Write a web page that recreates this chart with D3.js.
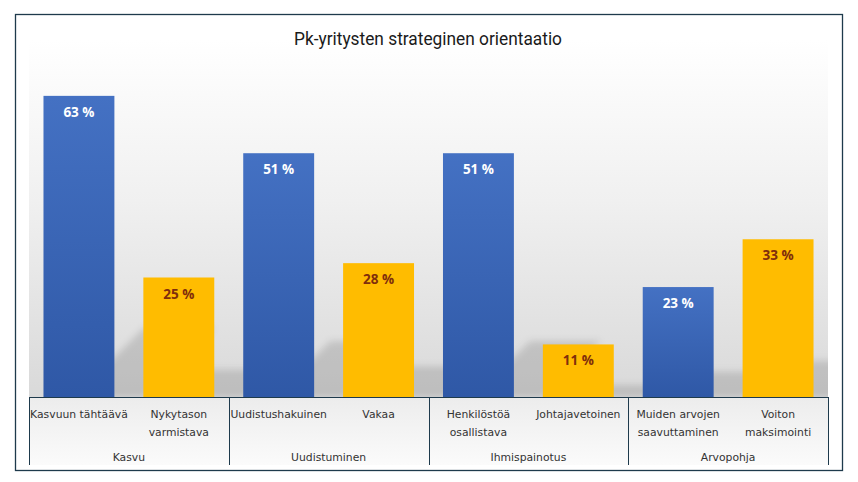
<!DOCTYPE html>
<html>
<head>
<meta charset="utf-8">
<script src="https://cdn.jsdelivr.net/npm/d3@7"></script>
<style>
  html, body { margin: 0; padding: 0; background: #ffffff; }
  svg { display: block; }
</style>
</head>
<body>
<svg id="chart" width="858" height="482"></svg>
<script>
// ---- data ----
const title = "Pk-yritysten strateginen orientaatio";
const categories = ["Kasvuun tähtäävä", "Nykytason varmistava", "Uudistushakuinen", "Vakaa",
                    "Henkilöstöä osallistava", "Johtajavetoinen", "Muiden arvojen saavuttaminen", "Voiton maksimointi"];
const categoryLines = [["Kasvuun tähtäävä"], ["Nykytason", "varmistava"], ["Uudistushakuinen"], ["Vakaa"],
                       ["Henkilöstöä", "osallistava"], ["Johtajavetoinen"], ["Muiden arvojen", "saavuttaminen"], ["Voiton", "maksimointi"]];
const groups = ["Kasvu", "Uudistuminen", "Ihmispainotus", "Arvopohja"];
const values = [63, 25, 51, 28, 51, 11, 23, 33];
const seriesOf = ["a", "b", "a", "b", "a", "b", "a", "b"];   // a = blue, b = yellow

// ---- layout ----
const svg = d3.select("#chart");
const left = 29, right = 828, base = 397, axisBottom = 465;

const x = d3.scaleBand().domain(categories).range([left, right]).paddingInner(0.29).paddingOuter(0.145);
const y = d3.scaleLinear().domain([0, 70]).range([base, base - 70 * 4.78]);
const gx = d3.scaleBand().domain(groups).range([left, right]);

const defs = svg.append("defs");
const bgGrad = defs.append("linearGradient").attr("id", "bgGrad").attr("x1", 0).attr("y1", 0).attr("x2", 0).attr("y2", 1);
bgGrad.append("stop").attr("offset", "0%").attr("stop-color", "#ffffff");
bgGrad.append("stop").attr("offset", "45%").attr("stop-color", "#f0f0f0");
bgGrad.append("stop").attr("offset", "100%").attr("stop-color", "#d9d9d9");
const axGrad = defs.append("linearGradient").attr("id", "axGrad").attr("x1", 0).attr("y1", 0).attr("x2", 0).attr("y2", 1);
axGrad.append("stop").attr("offset", "0%").attr("stop-color", "#ececec");
axGrad.append("stop").attr("offset", "100%").attr("stop-color", "#fbfbfb");
const blueGrad = defs.append("linearGradient").attr("id", "blueGrad").attr("x1", 0).attr("y1", 0).attr("x2", 0).attr("y2", 1);
blueGrad.append("stop").attr("offset", "0%").attr("stop-color", "#4471c3");
blueGrad.append("stop").attr("offset", "100%").attr("stop-color", "#2f58a6");
const blur = defs.append("filter").attr("id", "blur")
  .attr("filterUnits", "userSpaceOnUse").attr("x", 0).attr("y", 0).attr("width", 858).attr("height", 482);
blur.append("feGaussianBlur").attr("stdDeviation", 3.5);
defs.append("clipPath").attr("id", "plotClip").append("rect")
  .attr("x", left).attr("y", 0).attr("width", right - left).attr("height", base);

// frame
svg.append("rect").attr("x", 15.5).attr("y", 14.5).attr("width", 827).attr("height", 456)
  .attr("fill", "#ffffff").attr("stroke", "#1e3a4c").attr("stroke-width", 1.3);

// plot background
svg.append("rect").attr("x", left).attr("y", 40).attr("width", right - left).attr("height", base - 40)
  .attr("fill", "url(#bgGrad)");
svg.append("rect").attr("x", left).attr("y", base).attr("width", right - left).attr("height", axisBottom - base)
  .attr("fill", "url(#axGrad)");

// title
svg.append("text").attr("x", 428).attr("y", 45).attr("text-anchor", "middle")
  .attr("font-family", "Roboto, 'Open Sans', sans-serif").attr("font-size", 19).attr("font-weight", 400)
  .attr("fill", "#1a1a1a").attr("textLength", 268).attr("lengthAdjust", "spacingAndGlyphs")
  .text(title);

// shadows
const shadowG = svg.append("g").attr("clip-path", "url(#plotClip)");
shadowG.append("g").attr("filter", "url(#blur)").selectAll("path").data(categories).join("path")
  .attr("d", (c, i) => {
    const x0 = x(c) + 31, x1 = x(c) + x.bandwidth() + 31;
    const H = 0.23 * (base - y(values[i]));
    return `M${x0},${base}L${x1},${base}L${x1 + H},${base - H}L${x0 + H},${base - H}Z`;
  })
  .attr("fill", "#000").attr("opacity", 0.13);

// bars
svg.append("g").selectAll("rect").data(categories).join("rect")
  .attr("x", c => x(c)).attr("width", x.bandwidth())
  .attr("y", (c, i) => y(values[i])).attr("height", (c, i) => base - y(values[i]))
  .attr("fill", (c, i) => seriesOf[i] === "a" ? "url(#blueGrad)" : "#ffbc00");

// value labels
svg.append("g").selectAll("text").data(categories).join("text")
  .attr("x", c => x(c) + x.bandwidth() / 2).attr("y", (c, i) => y(values[i]) + 21)
  .attr("text-anchor", "middle")
  .attr("font-family", "'Open Sans', 'DejaVu Sans', sans-serif").attr("font-size", 13.5).attr("font-weight", 700)
  .attr("fill", (c, i) => seriesOf[i] === "a" ? "#ffffff" : "#7f2e0c")
  .text((c, i) => values[i] + " %");

// axis lines
const axisColor = "#1e3a4c";
svg.append("line").attr("x1", left).attr("x2", right).attr("y1", base + 0.5).attr("y2", base + 0.5)
  .attr("stroke", axisColor).attr("stroke-width", 1);
const divs = groups.map(g => gx(g)).concat([right]);
svg.append("g").selectAll("line").data(divs).join("line")
  .attr("x1", d => Math.round(d) + 0.5).attr("x2", d => Math.round(d) + 0.5)
  .attr("y1", base).attr("y2", axisBottom)
  .attr("stroke", axisColor).attr("stroke-width", 1);

// category labels
const catG = svg.append("g").attr("font-family", "'DejaVu Sans', Verdana, sans-serif")
  .attr("font-size", 10.8).attr("fill", "#333333");
categories.forEach((c, i) => {
  categoryLines[i].forEach((ln, j) => {
    catG.append("text").attr("x", x(c) + x.bandwidth() / 2).attr("y", 418 + j * 18)
      .attr("text-anchor", "middle").text(ln);
  });
});

// group labels
svg.append("g").selectAll("text").data(groups).join("text")
  .attr("x", g => gx(g) + gx.bandwidth() / 2).attr("y", 461)
  .attr("text-anchor", "middle")
  .attr("font-family", "'DejaVu Sans', Verdana, sans-serif").attr("font-size", 10.8).attr("fill", "#333333")
  .text(g => g);
</script>
</body>
</html>
